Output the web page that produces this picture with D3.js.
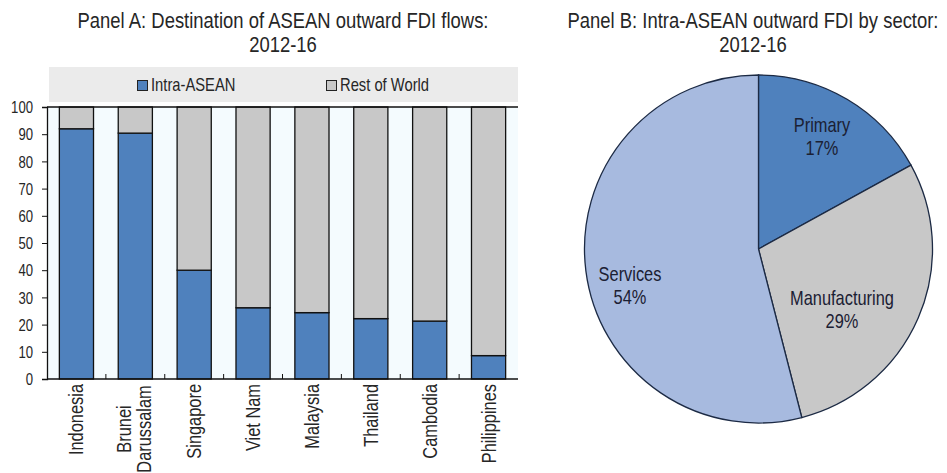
<!DOCTYPE html>
<html><head><meta charset="utf-8">
<script src="https://cdn.jsdelivr.net/npm/d3@7"></script>
<style>body{margin:0;background:#fff}svg{display:block;font-family:"Liberation Sans",Arial,sans-serif}</style>
</head><body><svg id="c" width="947" height="473"></svg>
<script>
const countries = ["Indonesia","Brunei Darussalam","Singapore","Viet Nam","Malaysia","Thailand","Cambodia","Philippines"];
const intraAsean = [92,90.4,40,26.2,24.4,22.2,21.3,8.6];
const restOfWorld = intraAsean.map(v => 100 - v);
const seriesNames = ["Intra-ASEAN","Rest of World"];
const yTicks = [0,10,20,30,40,50,60,70,80,90,100];
const sectors = ["Primary","Manufacturing","Services"];
const sectorShares = [17,29,54];

const svg = d3.select("#c");
const blue = "#4f81bd", grey = "#c8c8c8", light = "#a7badf";
const txt = "#262626";
const SX = 0.82; // narrow-font compression

function label(parent, px, py, lines, size, anchor, rot, lh, fill){
  const g = parent.append("g").attr("transform",`translate(${px},${py}) rotate(${rot||0}) scale(${SX},1)`);
  const t = g.append("text").attr("text-anchor",anchor||"middle").attr("font-size",size).attr("fill",fill||txt);
  lines.forEach((l,i)=>t.append("tspan").attr("x",0).attr("y",i*(lh||0)).text(l));
  return t;
}

// Panel A
const pA = {l:47, r:518, t:107, b:379};
const x = d3.scaleBand().domain(countries).range([pA.l,pA.r]).paddingInner(0.42).paddingOuter(0.21);
const y = d3.scaleLinear().domain([0,100]).range([pA.b,pA.t]);

label(svg,283,28,["Panel A: Destination of ASEAN outward FDI flows:","2012-16"],22.5,"middle",0,24);

// legend
svg.append("rect").attr("x",49).attr("y",67).attr("width",469).attr("height",35).attr("fill","#ebebeb");
const legX = [137,326];
seriesNames.forEach((n,i)=>{
  svg.append("rect").attr("x",legX[i]+0.5).attr("y",80.5).attr("width",10).attr("height",10).attr("fill",i?grey:blue).attr("stroke","#222").attr("stroke-width",1);
  label(svg,legX[i]+14,91,[n],18,"start");
});

svg.append("rect").attr("x",pA.l).attr("y",pA.t).attr("width",pA.r-pA.l).attr("height",pA.b-pA.t).attr("fill","#f4fbfe");

const stack = d3.stack().keys([0,1]).value((d,k)=>d[k])(countries.map((c,i)=>[intraAsean[i],restOfWorld[i]]));
stack.forEach((s,k)=>{
  svg.append("g").selectAll("rect").data(s).join("rect")
    .attr("x",(d,i)=>x(countries[i])).attr("width",x.bandwidth())
    .attr("y",d=>y(d[1])).attr("height",d=>y(d[0])-y(d[1]))
    .attr("fill",k?grey:blue).attr("stroke","#111").attr("stroke-width",1.3);
});

svg.append("line").attr("x1",pA.l).attr("x2",pA.r).attr("y1",pA.t).attr("y2",pA.t).attr("stroke","#111").attr("stroke-width",1.3);

// y axis
const ya = svg.append("g").attr("transform",`translate(${pA.l},0)`).call(d3.axisLeft(y).tickValues(yTicks).tickSize(5).tickPadding(0));
ya.select(".domain").attr("stroke","#111").attr("stroke-width",1.3);
ya.selectAll(".tick line").attr("stroke","#111");
ya.selectAll(".tick text").attr("font-size",16).attr("fill",txt).attr("font-family",null)
  .attr("x",-14/SX).attr("dy","0.36em").attr("transform",`scale(${SX},1)`);

// x axis baseline + boundary ticks
svg.append("line").attr("x1",pA.l).attr("x2",pA.r).attr("y1",pA.b).attr("y2",pA.b).attr("stroke","#111").attr("stroke-width",1.3);
const gap = (x.step()-x.bandwidth())/2;
svg.append("g").selectAll("line").data(countries.slice(1)).join("line")
  .attr("x1",d=>x(d)-gap).attr("x2",d=>x(d)-gap)
  .attr("y1",pA.b).attr("y2",pA.b-5).attr("stroke","#111").attr("stroke-width",1);

// x labels rotated
countries.forEach(c=>{
  const cx = x(c)+x.bandwidth()/2;
  if (c==="Brunei Darussalam") {
    label(svg,cx-4,429,["Brunei","Darussalam"],20,"middle",-90,20);
  } else {
    label(svg,cx+7,384,[c],20,"end",-90);
  }
});

// Panel B
label(svg,753,28,["Panel B: Intra-ASEAN outward FDI by sector:","2012-16"],22.5,"middle",0,24);

const cx = 758.5, cy = 249, R = 174;
const pie = d3.pie().sort(null).value(d=>d)(sectorShares);
const arc = d3.arc().innerRadius(0).outerRadius(R);
const colors = [blue, grey, light];
const g = svg.append("g").attr("transform",`translate(${cx},${cy})`);
g.selectAll("path").data(pie).join("path").attr("d",arc).attr("fill",(d,i)=>colors[i]).attr("stroke","#1c2a44").attr("stroke-width",1.3);

const labelPos = [[822,132],[842,305],[630,281]];
sectors.forEach((s,i)=>{
  label(svg,labelPos[i][0],labelPos[i][1],[s, sectorShares[i]+"%"],20,"middle",0,23,"#1b2033");
});
</script></body></html>
